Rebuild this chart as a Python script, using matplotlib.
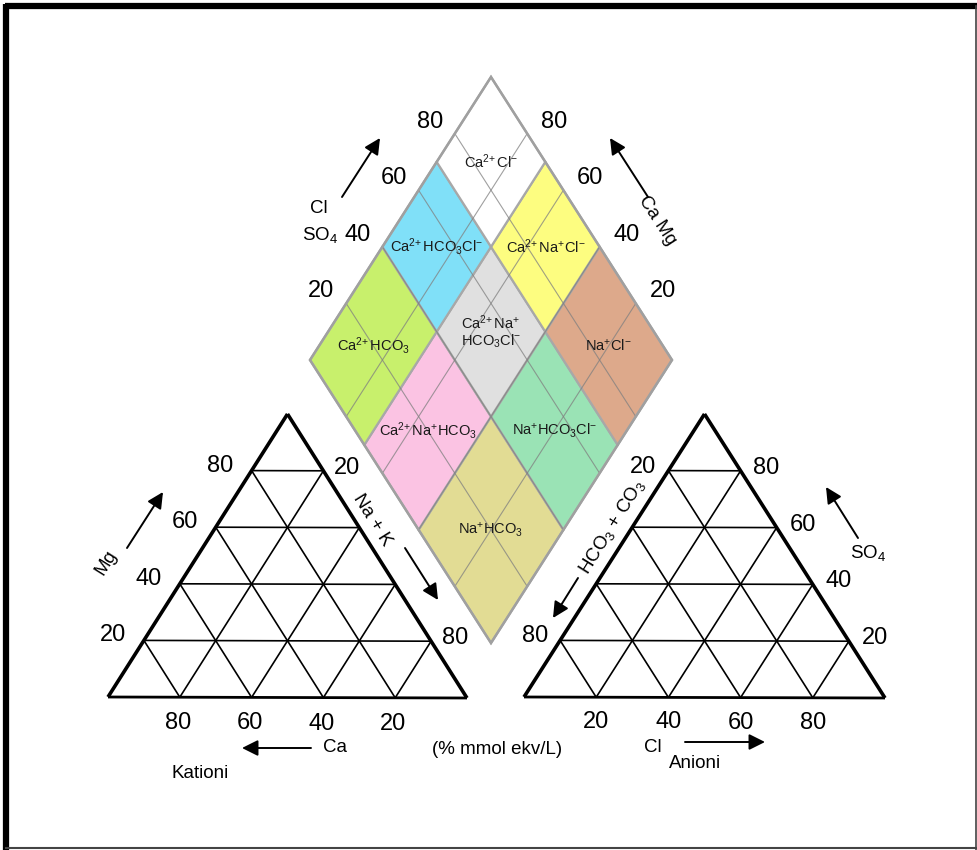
import matplotlib.pyplot as plt
import numpy as np
from matplotlib.patches import Polygon

plt.rcParams['font.family'] = ['Liberation Sans', 'DejaVu Sans']
plt.rcParams['mathtext.fontset'] = 'custom'
plt.rcParams['mathtext.rm'] = 'Liberation Sans'
plt.rcParams['mathtext.it'] = 'Liberation Sans:italic'
plt.rcParams['mathtext.bf'] = 'Liberation Sans:bold'

# ---- data ----
ticks = [20, 40, 60, 80]          # grid / tick values (%)
nak_ticks = [20, 80]              # labelled on the Na+K edge
hco3_ticks = [20, 80]             # labelled on the HCO3+CO3 edge
s_bounds = [0, 40, 70, 100]       # Cl+SO4 class limits in diamond
c_bounds = [0, 40, 70, 100]       # Ca+Mg class limits in diamond
# rows: Ca+Mg band (low -> high), cols: Cl+SO4 band (low -> high)
region_names = [
    ['Na$^{+}$HCO$_{3}$', 'Na$^{+}$HCO$_{3}$Cl$^{-}$', 'Na$^{+}$Cl$^{-}$'],
    ['Ca$^{2\\!+}$Na$^{+}$HCO$_{3}$', 'Ca$^{2\\!+}$Na$^{+}$\nHCO$_{3}$Cl$^{-}$', 'Ca$^{2\\!+}$Na$^{+}$Cl$^{-}$'],
    ['Ca$^{2\\!+}$HCO$_{3}$', 'Ca$^{2\\!+}$HCO$_{3}$Cl$^{-}$', 'Ca$^{2\\!+}$Cl$^{-}$'],
]
region_colors = [
    ['#e2dc94', '#9ae3b5', '#dda98b'],
    ['#fbc3e3', '#e0e0e0', '#fdfd80'],
    ['#c8f06c', '#80e0f8', '#ffffff'],
]

# ---- layout (pixels) ----
L_BL, L_BR, L_AP = np.array([108, 697]), np.array([467, 698]), np.array([287.5, 414])
R_BL, R_BR, R_AP = np.array([524, 697]), np.array([885, 698]), np.array([704.5, 414])
D_B, D_R, D_L = np.array([491, 643]), np.array([672, 360]), np.array([310, 360])


def cat_xy(mg, nak):
    ca = 100 - mg - nak
    return (L_BL * ca + L_BR * nak + L_AP * mg) / 100.0


def an_xy(so4, cl):
    hc = 100 - so4 - cl
    return (R_BL * hc + R_BR * cl + R_AP * so4) / 100.0


def dia_xy(s, c):
    return D_B + (D_R - D_B) * s / 100.0 + (D_L - D_B) * c / 100.0


fig = plt.figure(figsize=(9.77, 8.5), dpi=100)
ax = fig.add_axes([0, 0, 1, 1])
ax.set_xlim(0, 977)
ax.set_ylim(850, 0)
ax.axis('off')

num_fs = 17
lab_fs = 13.5


def seg(p, q, **kw):
    ax.plot([p[0], q[0]], [p[1], q[1]], solid_capstyle='butt', **kw)


def arrow(tail, head):
    ax.annotate('', xy=head, xytext=tail,
                arrowprops=dict(arrowstyle='-|>', color='k', lw=1.4,
                                mutation_scale=24, shrinkA=0, shrinkB=0))


# ---- ternary triangles ----
for xy, BL, BR, AP in [(cat_xy, L_BL, L_BR, L_AP), (an_xy, R_BL, R_BR, R_AP)]:
    for v in ticks:
        seg(xy(v, 0), xy(v, 100 - v), color='k', lw=1.2)      # horizontal
        seg(xy(0, v), xy(100 - v, v), color='k', lw=1.2)      # parallel to left edge
        seg(xy(0, 100 - v), xy(100 - v, 0), color='k', lw=1.2)  # parallel to right edge
    seg(BL, AP, color='k', lw=2.6)
    seg(AP, BR, color='k', lw=2.6)
    seg(BL, BR, color='k', lw=2.0)

# cation tick labels
for v in ticks:
    p = cat_xy(v, 0)
    ax.text(p[0] - 31, p[1] - 5, str(v), fontsize=num_fs, ha='center', va='center')
    p = cat_xy(0, v)
    ax.text(p[0] - 2, p[1] + 26, str(100 - v), fontsize=num_fs, ha='center', va='center')
for v in nak_ticks:
    p = cat_xy(100 - v, v)
    ax.text(p[0] + 24, p[1] - 3, str(v), fontsize=num_fs, ha='center', va='center')

# anion tick labels
for v in ticks:
    p = an_xy(v, 100 - v)
    ax.text(p[0] + 26, p[1] - 3, str(v), fontsize=num_fs, ha='center', va='center')
    p = an_xy(0, v)
    ax.text(p[0], p[1] + 25, str(v), fontsize=num_fs, ha='center', va='center')
for v in hco3_ticks:
    p = an_xy(100 - v, 0)
    ax.text(p[0] - 25, p[1] - 4, str(v), fontsize=num_fs, ha='center', va='center')

# ---- diamond ----
for ci in range(3):
    for si in range(3):
        s0, s1 = s_bounds[si], s_bounds[si + 1]
        c0, c1 = c_bounds[ci], c_bounds[ci + 1]
        pts = [dia_xy(s0, c0), dia_xy(s1, c0), dia_xy(s1, c1), dia_xy(s0, c1)]
        ax.add_patch(Polygon(pts, closed=True, facecolor=region_colors[ci][si],
                             edgecolor='#a8a8a8', lw=1.6, zorder=1))
        cx = dia_xy((s0 + s1) / 2, (c0 + c1) / 2)
        ax.text(cx[0], cx[1], region_names[ci][si], fontsize=10.5, color='#1a1a1a',
                ha='center', va='center', zorder=5, linespacing=1.0)

for v in ticks:
    seg(dia_xy(v, 0), dia_xy(v, 100), color='#808080', lw=0.8, alpha=0.75, zorder=2)
    seg(dia_xy(0, v), dia_xy(100, v), color='#808080', lw=0.8, alpha=0.75, zorder=2)
outline = [dia_xy(0, 0), dia_xy(100, 0), dia_xy(100, 100), dia_xy(0, 100)]
ax.add_patch(Polygon(outline, closed=True, fill=False, edgecolor='#a0a0a0', lw=1.8, zorder=4))

for v in ticks:
    p = dia_xy(v, 100)
    ax.text(p[0] - 25, p[1] - 12, str(v), fontsize=num_fs, ha='center', va='center')
    p = dia_xy(100, v)
    ax.text(p[0] + 27, p[1] - 12, str(v), fontsize=num_fs, ha='center', va='center')

# ---- axis titles and arrows ----
ax.text(319, 208, 'Cl', fontsize=lab_fs, ha='center', va='center')
ax.text(320, 235, 'SO$_4$', fontsize=lab_fs, ha='center', va='center')
arrow((342, 197), (380, 138))
ax.text(657, 220, 'Ca Mg', fontsize=lab_fs, ha='center', va='center', rotation=-57)
arrow((648, 197), (610, 138))

ax.text(106, 563, 'Mg', fontsize=lab_fs, ha='center', va='center', rotation=58)
arrow((127, 548), (163, 492))
ax.text(372, 520, 'Na + K', fontsize=lab_fs, ha='center', va='center', rotation=-58)
arrow((405, 548), (438, 600))
ax.text(335, 748, 'Ca', fontsize=lab_fs, ha='center', va='center')
arrow((311, 748), (242, 748))
ax.text(200, 773, 'Kationi', fontsize=lab_fs, ha='center', va='center')

ax.text(497, 749, '(% mmol ekv/L)', fontsize=lab_fs, ha='center', va='center')

ax.text(612, 527, 'HCO$_3$ + CO$_3$', fontsize=lab_fs, ha='center', va='center', rotation=58)
arrow((578, 578), (553, 618))
ax.text(868, 553, 'SO$_4$', fontsize=lab_fs, ha='center', va='center')
arrow((858, 538), (826, 487))
ax.text(653, 747, 'Cl', fontsize=lab_fs, ha='center', va='center')
arrow((685, 742), (765, 742))
ax.text(695, 763, 'Anioni', fontsize=lab_fs, ha='center', va='center')

# ---- frame ----
ax.plot([5, 977], [6, 6], color='k', lw=4.5, solid_capstyle='butt')
ax.plot([6, 6], [4, 850], color='k', lw=4.5, solid_capstyle='butt')
ax.plot([975.5, 975.5], [6, 850], color='#444444', lw=1.2)
ax.plot([6, 977], [847.5, 847.5], color='#444444', lw=1.5)

fig.savefig('out.png', dpi=100)
